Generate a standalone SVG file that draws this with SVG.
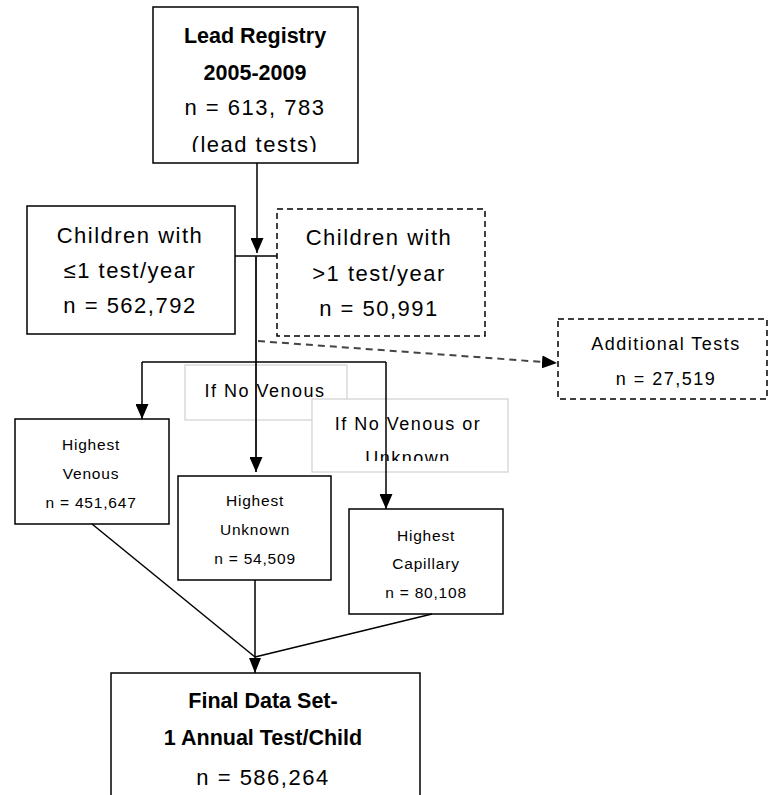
<svg xmlns="http://www.w3.org/2000/svg" width="770" height="795" viewBox="0 0 770 795">
<style>
  .box{fill:#fff;stroke:#000;stroke-width:1.5}
  .dbox{fill:#fff;stroke:#000;stroke-width:1.5;stroke-dasharray:6 4}
  .lbl{fill:#fff;stroke:#d0d0d0;stroke-width:1.2}
  .t{font-family:"Liberation Sans",Arial,sans-serif;font-size:22px;letter-spacing:1.5px;text-anchor:middle;fill:#000}
  .b{font-family:"Liberation Sans",Arial,sans-serif;font-size:21.5px;font-weight:bold;text-anchor:middle;fill:#000}
  .s{font-family:"Liberation Sans",Arial,sans-serif;font-size:15.5px;letter-spacing:0.8px;text-anchor:middle;fill:#000}
  .m{font-family:"Liberation Sans",Arial,sans-serif;font-size:18px;letter-spacing:1.5px;text-anchor:middle;fill:#000}
  .ln{fill:none;stroke:#000;stroke-width:1.5}
  .ln2{fill:none;stroke:#222;stroke-width:2}
  .dl{fill:none;stroke:#444;stroke-width:2;stroke-dasharray:7 5}
</style>
<defs>
  <marker id="ah" viewBox="0 0 15 13" refX="15" refY="6.5" markerWidth="15" markerHeight="13" markerUnits="userSpaceOnUse" orient="auto">
    <path d="M0,0 L15,6.5 L0,13 Z" fill="#000"/>
  </marker>
  <marker id="ahs" viewBox="0 0 15 12" refX="15" refY="6" markerWidth="15" markerHeight="12" markerUnits="userSpaceOnUse" orient="auto">
    <path d="M0,0 L15,6 L0,12 Z" fill="#000"/>
  </marker>
  <clipPath id="c1"><rect x="150" y="0" width="210" height="152"/></clipPath>
  <clipPath id="c2"><rect x="300" y="390" width="220" height="71"/></clipPath>
</defs>

<g id="lead-registry">
  <rect class="box" x="153" y="7" width="205" height="156"/>
  <g clip-path="url(#c1)">
    <text class="b" x="255" y="43">Lead Registry</text>
    <text class="b" x="255" y="80">2005-2009</text>
    <text class="t" x="255" y="115">n = 613, 783</text>
    <text class="t" x="255" y="152">(lead tests)</text>
  </g>
</g>

<g id="children-le1">
  <rect class="box" x="27" y="206" width="208" height="128"/>
  <text class="t" x="130" y="243">Children with</text>
  <text class="t" x="130" y="278">≤1 test/year</text>
  <text class="t" x="130" y="313">n = 562,792</text>
</g>

<g id="children-gt1">
  <rect class="dbox" x="277" y="209" width="208" height="127"/>
  <text class="t" x="379" y="245">Children with</text>
  <text class="t" x="379" y="281">&gt;1 test/year</text>
  <text class="t" x="379" y="316">n = 50,991</text>
</g>

<g id="additional-tests">
  <rect class="dbox" x="558" y="319" width="209" height="80"/>
  <text class="m" x="666" y="350">Additional Tests</text>
  <text class="m" x="666" y="385">n = 27,519</text>
</g>

<g id="label-no-venous">
  <rect class="lbl" x="185" y="365" width="162" height="55"/>
  <text class="m" x="265" y="397">If No Venous</text>
</g>

<g id="label-no-venous-unknown">
  <rect class="lbl" x="312" y="399" width="196" height="73"/>
  <text class="m" x="408" y="430">If No Venous or</text>
  <g clip-path="url(#c2)"><text class="m" x="408" y="464">Unknown</text></g>
</g>

<g id="highest-venous">
  <rect class="box" x="15" y="419" width="154" height="105"/>
  <text class="s" x="91" y="450">Highest</text>
  <text class="s" x="91" y="479">Venous</text>
  <text class="s" x="91" y="508">n = 451,647</text>
</g>

<g id="highest-unknown">
  <rect class="box" x="178" y="476" width="153" height="104"/>
  <text class="s" x="255" y="506">Highest</text>
  <text class="s" x="255" y="535">Unknown</text>
  <text class="s" x="255" y="564">n = 54,509</text>
</g>

<g id="highest-capillary">
  <rect class="box" x="349" y="509" width="154" height="105"/>
  <text class="s" x="426" y="541">Highest</text>
  <text class="s" x="426" y="569">Capillary</text>
  <text class="s" x="426" y="598">n = 80,108</text>
</g>

<g id="final-data-set">
  <rect class="box" x="111" y="673" width="309" height="140"/>
  <text class="b" x="263" y="708">Final Data Set-</text>
  <text class="b" x="263" y="745">1 Annual  Test/Child</text>
  <text class="t" x="263" y="785">n = 586,264</text>
</g>

<g id="connectors">
  <path class="ln" d="M257,163 L257,253" marker-end="url(#ah)"/>
  <path class="ln" d="M235,256 L277,256"/>
  <path class="ln2" d="M256,256 L256,472" marker-end="url(#ah)"/>
  <path class="dl" d="M258,341 L557,363" marker-end="url(#ah)"/>
  <path class="ln" d="M142,362 L386,362"/>
  <path class="ln" d="M142,362 L142,419" marker-end="url(#ah)"/>
  <path class="ln" d="M386,362 L386,509" marker-end="url(#ah)"/>
  <path class="ln" d="M92,524 L255,657"/>
  <path class="ln" d="M432,614 L255,657"/>
  <path class="ln" d="M255,580 L255,673" marker-end="url(#ahs)"/>
</g>
</svg>
